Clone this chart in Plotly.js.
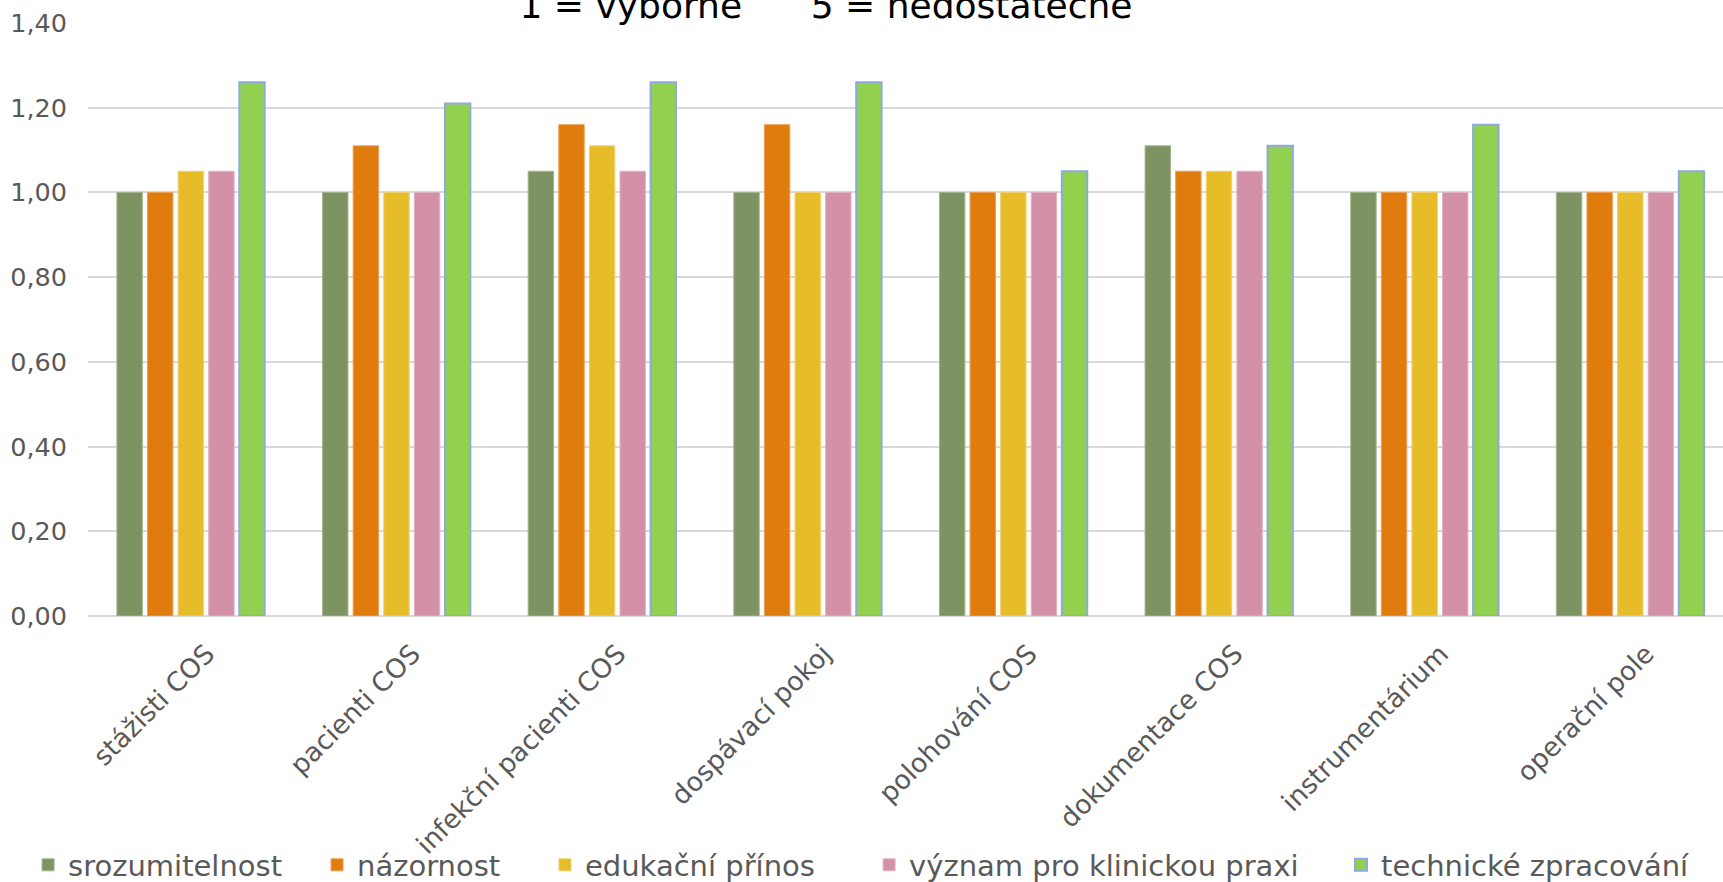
<!DOCTYPE html>
<html>
<head>
<meta charset="utf-8">
<script src="https://cdn.plot.ly/plotly-3.0.1.min.js"></script>
<style>
html,body{margin:0;padding:0;background:#fff;}
#chart{width:1723px;height:882px;}
</style>
</head>
<body>
<div id="chart"></div>
<script>
const categories = ["stážisti COS", "pacienti COS", "infekční pacienti COS", "dospávací pokoj", "polohování COS", "dokumentace COS", "instrumentárium", "operační pole"];
const seriesNames = ["srozumitelnost", "názornost", "edukační přínos", "význam pro klinickou praxi", "technické zpracování"];
const srozumitelnost = [1.00, 1.00, 1.05, 1.00, 1.00, 1.11, 1.00, 1.00];
const nazornost      = [1.00, 1.11, 1.16, 1.16, 1.00, 1.05, 1.00, 1.00];
const edukacniPrinos = [1.05, 1.00, 1.11, 1.00, 1.00, 1.05, 1.00, 1.00];
const vyznam         = [1.05, 1.00, 1.05, 1.00, 1.00, 1.05, 1.00, 1.00];
const technicke      = [1.26, 1.21, 1.26, 1.26, 1.05, 1.11, 1.16, 1.05];
const yTickValues = [0, 0.2, 0.4, 0.6, 0.8, 1.0, 1.2, 1.4];
const titleText = "1 = výborně\u00A0\u00A0\u00A0\u00A0\u00A0\u00A05 = nedostatečné";

const seriesValues = [srozumitelnost, nazornost, edukacniPrinos, vyznam, technicke];
const fills = ["#7E9362", "#E07C0E", "#E6BC29", "#D291A6", "#92D050"];
const borders = ["#A3B28C", "#EC9F55", "#F0D06B", "#E2B3C2", "#8EA9DB"];
const borderW = [1, 1, 1, 1, 2];
const legendIds = ["legend", "legend2", "legend3", "legend4", "legend5"];
const legendX = [0.0163, 0.184, 0.3163, 0.5044, 0.7783];

const FONT = "DejaVu Sans, Liberation Sans, sans-serif";

const traces = seriesNames.map((n, i) => ({
  type: "bar",
  name: n,
  x: categories,
  y: seriesValues[i],
  legend: legendIds[i],
  marker: {color: fills[i], line: {color: borders[i], width: borderW[i]}},
  hoverinfo: "skip"
}));

const layout = {
  width: 1723, height: 882,
  paper_bgcolor: "#ffffff", plot_bgcolor: "#ffffff",
  margin: {l: 88, r: 0, t: 23, b: 266, pad: 0},
  separators: ", ",
  barmode: "group",
  bargap: 0.256,
  bargroupgap: 0.17,
  font: {family: FONT, color: "#595959"},
  title: {
    text: titleText,
    font: {family: FONT, size: 36, color: "#000000"},
    xref: "container", x: 0.4794, xanchor: "center",
    yref: "container", y: 0.9935, yanchor: "middle"
  },
  xaxis: {
    type: "category",
    range: [-0.5, 7.451],
    tickangle: -45,
    tickfont: {family: FONT, size: 26.5, color: "#595959"},
    ticklabelstandoff: 16,
    ticklabelshift: 16,
    showgrid: false, zeroline: false,
    showline: false,
    ticks: "", ticklen: 0
  },
  yaxis: {
    range: [0, 1.4],
    tickvals: yTickValues,
    tickformat: ".2f",
    tickfont: {family: FONT, size: 25.5, color: "#595959"},
    ticklabelstandoff: 20,
    showgrid: true, gridcolor: "#D9D9D9", gridwidth: 2,
    zeroline: true, zerolinecolor: "#D9D9D9", zerolinewidth: 2,
    showline: false, ticks: "", ticklen: 0,
    automargin: false
  },
  showlegend: true
};

legendIds.forEach((id, i) => {
  layout[id] = {
    orientation: "h",
    xref: "container", yref: "container",
    x: legendX[i], xanchor: "left",
    y: 0.0193, yanchor: "middle",
    font: {family: FONT, size: 29, color: "#595959"},
    bgcolor: "rgba(0,0,0,0)",
    itemwidth: 30
  };
});

Plotly.newPlot("chart", traces, layout, {displayModeBar: false, staticPlot: true});
</script>
</body>
</html>
